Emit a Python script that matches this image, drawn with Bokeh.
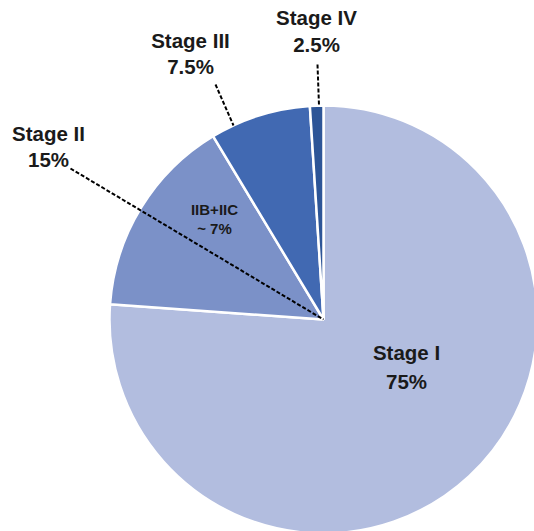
import math
from bokeh.plotting import figure
from bokeh.embed import file_html
from bokeh.resources import INLINE
from bokeh.core.properties import value

# Data
stages = ["Stage I", "Stage II", "Stage III", "Stage IV"]
pct_labels = ["75%", "15%", "7.5%", "2.5%"]
slice_values = [75.0, 15.0, 7.5, 1.0]   # drawn slice sizes
colors = ["#B2BDDF", "#7B91C8", "#4169B2", "#2D5597"]
sub_label = ["IIB+IIC", "~ 7%"]

W, H = 534, 531
p = figure(width=W, height=H, x_range=(0, W), y_range=(0, H),
           output_backend="svg", toolbar_location=None, min_border=0)
p.axis.visible = False
p.grid.visible = False
p.outline_line_color = None
p.background_fill_color = "white"
p.border_fill_color = "white"

def Y(y):  # pixel-from-top to data
    return H - y

cx, cy, r = 323, Y(319), 214
total = sum(slice_values)
starts, ends = [], []
a = math.pi / 2
for v in slice_values:
    starts.append(a)
    a = a - v / total * 2 * math.pi
    ends.append(a)

p.wedge(x=cx, y=cy, radius=r, start_angle=starts, end_angle=ends,
        direction="clock", fill_color=colors, line_color="white", line_width=2.5)

font = value("Liberation Sans")
tc = "#1A1A1A"

# leader lines
p.line([70, cx], [Y(168), cy], line_color="black", line_width=2, line_dash="4 2")
p.line([215, 233], [Y(84), Y(125)], line_color="black", line_width=2, line_dash="4 2")
p.line([317, 318.5], [Y(64), Y(105)], line_color="black", line_width=2, line_dash="4 2")

# main labels
lab_x = [406, 48, 190, 316]
lab_y1 = [352, 133, 40, 17]
lab_y2 = [381, 159, 66, 44]
p.text(x=lab_x, y=[Y(v) for v in lab_y1], text=stages, text_font=font,
       text_font_style="bold", text_font_size="20.5px", text_align="center",
       text_baseline="middle", text_color=tc)
p.text(x=lab_x, y=[Y(v) for v in lab_y2], text=pct_labels, text_font=font,
       text_font_style="bold", text_font_size="20.5px", text_align="center",
       text_baseline="middle", text_color=tc)

p.text(x=[214, 214], y=[Y(209), Y(228)], text=sub_label, text_font=font,
       text_font_style="bold", text_font_size="15px", text_align="center",
       text_baseline="middle", text_color=tc)

open("out.html", "w").write(file_html(p, INLINE))
